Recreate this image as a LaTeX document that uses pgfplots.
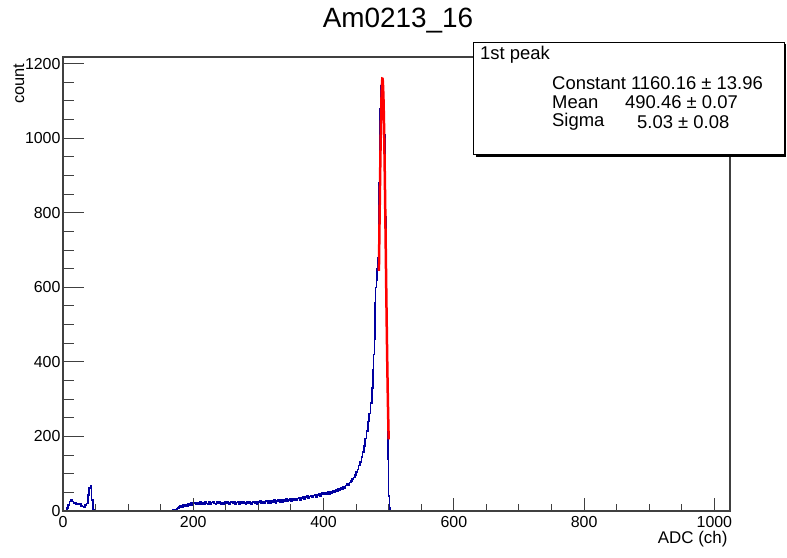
\documentclass[border=0pt]{standalone}
\usepackage{fontspec}
\setmainfont{Liberation Sans}
\usepackage{pgfplots}
\pgfplotsset{compat=1.18}
\definecolor{histblue}{RGB}{0,0,160}

% blue histogram: left bin edge, counts
\pgfplotstableread{
x y
0 0
4 2
6 8
8 16
10 25
12 31
14 26
16 20
18 22
20 18
22 20
24 17
26 19
28 14
30 12
32 10
34 16
36 20
38 43
40 62
42 67
44 30
46 4
48 0
60 1
61 0
72 2
73 0
85 1
86 0
100 1
101 0
118 1
119 0
125 1
126 0
135 2
136 0
142 1
143 0
150 1
151 0
158 2
159 0
163 1
164 0
166 2
167 1
168 3
170 1
172 3
174 5
176 8
178 11
180 13
182 10
184 16
186 13
188 18
190 14
192 19
194 15
196 21
198 16
200 20
202 23
204 17
206 22
208 18
210 24
212 19
214 23
216 18
218 25
220 20
222 19
224 24
226 18
228 23
230 26
232 20
234 19
236 24
238 20
240 25
242 19
244 23
246 18
248 24
250 20
252 25
254 19
256 23
258 26
260 20
262 24
264 18
266 23
268 25
270 19
272 24
274 20
276 26
278 21
280 19
282 25
284 20
286 24
288 18
290 23
292 26
294 20
296 25
298 19
300 24
302 27
304 21
306 26
308 20
310 25
312 28
314 22
316 27
318 21
320 28
322 23
324 29
326 22
328 27
330 30
332 24
334 29
336 23
338 31
340 26
342 32
344 25
346 30
348 34
350 27
352 32
354 28
356 34
358 29
360 33
362 36
364 30
366 35
368 38
370 32
372 37
374 40
376 34
378 39
380 42
382 36
384 41
386 44
388 38
390 43
392 46
394 40
396 45
398 48
400 44
402 49
404 45
406 51
408 46
410 52
412 48
414 55
416 51
418 57
420 54
422 60
424 56
426 63
428 59
430 66
432 62
434 69
436 73
438 69
440 77
442 80
444 86
446 90
448 97
450 104
452 112
454 122
456 132
458 145
460 158
462 175
464 195
466 215
468 240
470 262
472 290
474 330
476 380
477 420
478 460
479 560
480 600
481 620
482 650
483 680
484 760
485 880
486 990
487 1080
488 1140
489 1160
490 1130
491 1080
492 1090
493 1010
494 870
495 790
496 630
497 450
498 260
499 140
500 40
501 10
502 3
503 1
504 0
510 1
511 0
515 1
516 0
520 1
521 0
540 1
541 0
555 1
556 0
585 1
586 0
640 1
641 0
810 1
811 0
824 1
825 0
830 1
831 0
1024 0
}\histdata

% Gaussian fit of the first peak
\pgfplotstableread{
x y
485 644
486 783
487 916
488 1029
489 1112
490 1155
490.46 1160
491 1153
492 1107
493 1021
494 906
495 772
496 633
497 498
498 377
499 274
500 192
}\fitdata

\begin{document}
\begin{tikzpicture}
\path[use as bounding box] (0,0) rectangle (787bp,558bp);
\begin{axis}[
  at={(63bp,47bp)}, anchor=south west,
  scale only axis, width=667bp, height=454bp,
  xmin=0, xmax=1024, ymin=0, ymax=1218,
  xtick={0,200,...,1000}, ytick={0,200,...,1200},
  minor tick num=3,
  tick align=inside, tick pos=left,
  xtick style={/pgfplots/major tick length=13bp, /pgfplots/minor tick length=7bp},
  ytick style={/pgfplots/major tick length=21bp, /pgfplots/minor tick length=11bp},
  every tick/.style={black!75, line width=1bp},
  axis line style={black!75, line width=1.6bp},
  ticklabel style={font=\fontsize{16}{19}\selectfont},
  /pgf/number format/assume math mode=true,
  /pgf/number format/1000 sep={},
  xticklabel style={yshift=-2bp},
  yticklabel style={xshift=1bp},
  axis on top,
]
\addplot[const plot, histblue, line width=1.5bp] table {\histdata};
\addplot[red, line width=2.5bp, smooth] table {\fitdata};
\end{axis}

% title and axis titles
\node[font=\fontsize{28}{32}\selectfont] at (398bp,537bp) {Am0213\_16};
\node[font=\fontsize{16.5}{19}\selectfont, rotate=90, anchor=east] at (19bp,498bp) {count};
\node[font=\fontsize{17}{20}\selectfont, anchor=east] at (731bp,19bp) {ADC (ch)};

% stats box
\fill[black] (476bp,401bp) rectangle (786bp,403bp);
\fill[black] (784bp,401bp) rectangle (786bp,514bp);
\draw[fill=white, line width=1bp] (473bp,403bp) rectangle (784bp,515bp);
\begin{scope}[every node/.style={font=\fontsize{18.5}{21}\selectfont, inner sep=0pt}]
\node[anchor=west] at (480bp,503bp) {1st peak};
\node[anchor=west] at (552bp,475bp) {Constant 1160.16 ± 13.96};
\node[anchor=west] at (552bp,456bp) {Mean};
\node[anchor=west] at (625bp,456bp) {490.46 ± 0.07};
\node[anchor=west] at (552bp,436bp) {Sigma};
\node[anchor=west] at (637bp,436bp) {5.03 ± 0.08};
\end{scope}
\end{tikzpicture}
\end{document}
